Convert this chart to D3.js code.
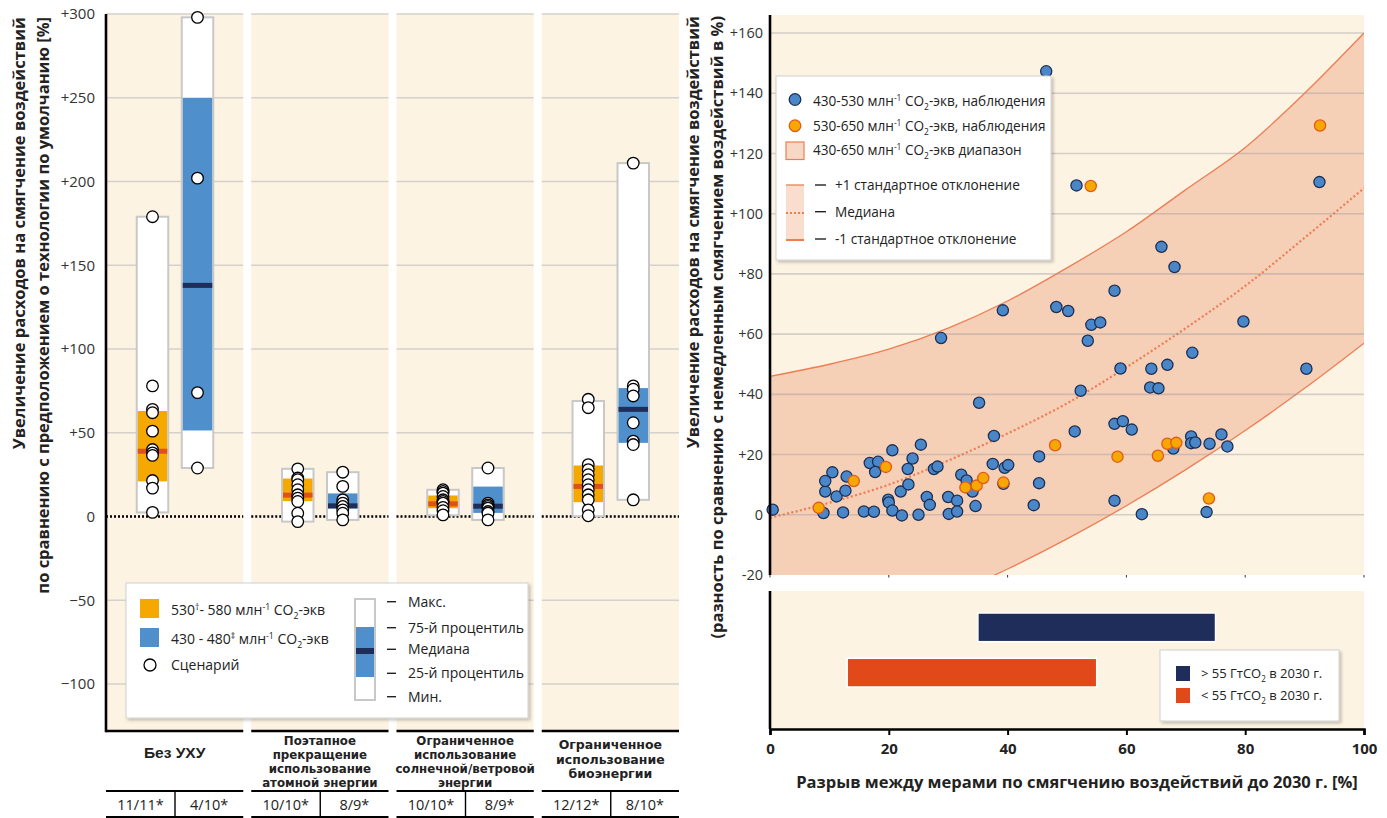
<!DOCTYPE html>
<html>
<head>
<meta charset="utf-8">
<script src="https://cdn.jsdelivr.net/npm/d3@7"></script>
<style>
  body { margin: 0; background: #fff; }
  svg { display: block; font-family: "Open Sans", "Noto Sans", sans-serif; }
</style>
</head>
<body>
<script>
// ---------- Left panel: cost increase under technology constraints ----------
const categoryLines = [
  ["Без УХУ"],
  ["Поэтапное", "прекращение", "использование", "атомной энергии"],
  ["Ограниченное", "использование", "солнечной/ветровой", "энергии"],
  ["Ограниченное", "использование", "биоэнергии"]
];
const counts530 = ["11/11*", "10/10*", "10/10*", "12/12*"];
const counts430 = ["4/10*", "8/9*", "8/9*", "8/10*"];
// [min, 25th pct, median, 75th pct, max]
const stats530 = [
  [2.5, 21, 39, 63, 179],
  [-3, 9.2, 12.8, 22.7, 28.5],
  [0.8, 5, 7.6, 12.6, 16],
  [0.2, 8.6, 18, 30.5, 69]
];
const stats430 = [
  [29, 51.4, 138, 250, 298],
  [-2, 4.8, 6.4, 13.8, 26.5],
  [-2, 2.2, 6.2, 17.9, 29],
  [10, 44, 64, 76.7, 211]
];
const scen530 = [
  [179, 78, 64, 62, 51, 40, 38, 36.5, 21.5, 17, 2.5],
  [28.5, 23, 22, 19, 16, 13, 11, 9, 2, -3],
  [16, 15, 14, 12, 10, 9, 8, 5.5, 3.5, 1],
  [70, 65, 31, 28, 25, 22, 19, 16, 13, 10, 4, 0.5]
];
const scen430 = [
  [298, 202, 74, 29],
  [26.5, 18, 10, 8, 6, 4, 2, -2],
  [29, 8, 7, 6, 5, 3, 2, -2],
  [211, 78, 76, 72, 56, 45, 43, 10]
];
const leftTicks = [-100, -50, 0, 50, 100, 150, 200, 250, 300];

// ---------- Right panel: mitigation gap vs. cost increase ----------
const obs430 = [
  [46.5, 147.3], [51.6, 109.4], [92.5, 110.5], [65.9, 89.0], [68.1, 82.3], [58.0, 74.4],
  [28.8, 58.7], [39.2, 67.9], [48.2, 69.0], [50.2, 67.7], [54.1, 63.1], [55.6, 63.9],
  [53.5, 57.8], [79.7, 64.2], [71.1, 53.8], [59.0, 48.6], [64.2, 48.5], [66.9, 49.8],
  [90.3, 48.5], [52.3, 41.2], [64.0, 42.3], [65.4, 42.0], [35.2, 37.2], [58.0, 30.2],
  [59.4, 31.1], [60.9, 28.3], [51.3, 27.7], [37.7, 26.2], [45.3, 19.4], [67.9, 22.0],
  [70.9, 26.0], [70.9, 23.8], [71.6, 24.0], [74.0, 23.6], [76.0, 26.7], [77.0, 22.7],
  [45.3, 10.5], [44.4, 3.2], [58.0, 4.7], [62.6, 0.2], [73.5, 0.9],
  [0.45, 1.7], [9.0, 0.6], [9.3, 7.7], [9.3, 11.2], [10.5, 14.1], [11.2, 6.1],
  [12.9, 12.7], [12.7, 8.0], [12.3, 0.8], [15.8, 1.1], [17.5, 1.0], [16.8, 17.2],
  [18.2, 17.6], [17.7, 14.2], [20.6, 21.4], [19.9, 5.0], [20.0, 4.1], [20.6, 1.4],
  [22.2, -0.2], [22.0, 7.7], [23.3, 10.1], [23.2, 15.2], [24.0, 18.7], [25.4, 23.3],
  [25.0, 0.0], [26.4, 5.9], [26.9, 3.3], [27.6, 15.2], [28.2, 16.0], [30.0, 5.9],
  [30.1, 0.3], [31.5, 4.7], [31.5, 1.1], [32.2, 13.3], [33.1, 11.4], [34.1, 7.7],
  [34.6, 2.9], [37.5, 16.9], [39.5, 15.6], [40.1, 16.5], [39.3, 10.3]
];
const obs530 = [
  [54.0, 109.2], [92.6, 129.3], [8.2, 2.3], [14.1, 11.2], [19.5, 15.9], [32.9, 9.1],
  [34.8, 9.7], [35.9, 12.2], [39.3, 10.7], [48.0, 23.1], [58.5, 19.3], [65.3, 19.6],
  [66.9, 23.6], [68.4, 23.9], [73.9, 5.4]
];
const bandX      = [0, 10, 20, 30, 40, 50, 60, 70, 80, 90, 100];
const bandUpper  = [46, 50, 55, 62, 71, 82, 94, 108, 122, 140, 160];
const bandMedian = [-1, 4, 10, 18, 27, 37, 49, 62, 76, 92, 108.5];
const bandLower  = [-48, -42, -35, -27, -18, -8, 3, 15, 28, 42, 57];
const rightTicks = [-20, 0, 20, 40, 60, 80, 100, 120, 140, 160];
const gapTicks = [0, 20, 40, 60, 80, 100];
const emissionGroups = ["high", "low"];
const gapStart = [35, 13];
const gapEnd = [75, 55];

// ---------- styles ----------
const C = {
  bg: "#fdf3e2", grid: "#d4d1cc", orange: "#f5a800", orangeMed: "#e0501a",
  blue: "#4f8fcc", navy: "#1f2d5a", band: "#f5cfb6", bandLine: "#ee7d55",
  dotBlue: "#4a87c9", dotBlueStroke: "#1c2f55", dotOrange: "#f6a800", dotOrangeStroke: "#e2591b",
  barHigh: "#1f2d5a", barLow: "#e1491a", text: "#222"
};
const FONT = "'Open Sans', 'Noto Sans', sans-serif";
const LABEL_FONTS = ["'Liberation Sans', Arial, sans-serif", "'DejaVu Sans', sans-serif",
                     "'DejaVu Sans', sans-serif", "'DejaVu Sans', sans-serif"];

const svg = d3.select("body").append("svg").attr("width", 1387).attr("height", 818);
const defs = svg.append("defs");
defs.append("filter").attr("id", "shadow")
  .attr("x", "-10%").attr("y", "-10%").attr("width", "125%").attr("height", "130%")
  .append("feDropShadow").attr("dx", 2).attr("dy", 2).attr("stdDeviation", 1.6)
  .attr("flood-color", "#000").attr("flood-opacity", 0.22);

// text with superscript / subscript pieces: parts = [[text, "sup"|"sub"|null], ...]
function richText(sel, parts, size) {
  let shift = 0;
  parts.forEach(([t, kind]) => {
    const target = kind === "sup" ? -0.38 * size : kind === "sub" ? 0.3 * size : 0;
    sel.append("tspan").attr("dy", target - shift)
      .attr("font-size", kind ? size * 0.62 : size).text(t);
    shift = target;
  });
  return sel;
}

// ================= LEFT PANEL =================
const LP = { x0: 106, x1: 679, top: 14, bottom: 731 };
const panel = d3.scaleBand().domain(d3.range(4)).range([LP.x0, LP.x1]).paddingInner(32 / 581);
const inner = d3.scaleBand().domain([0, 1]).range([30.75, 107.25]).paddingInner(0.3);
const yL = d3.scaleLinear().domain([-128, 300]).range([LP.bottom, LP.top]);
const pw = panel.bandwidth();

const panels = svg.append("g").selectAll("g").data(d3.range(4)).join("g")
  .attr("transform", i => `translate(${panel(i)},0)`);

panels.append("rect").attr("y", LP.top).attr("width", pw).attr("height", LP.bottom - LP.top).attr("fill", C.bg);
panels.selectAll("line.grid").data(leftTicks.filter(d => d !== 0)).join("line")
  .attr("class", "grid").attr("x1", 0).attr("x2", pw)
  .attr("y1", d => yL(d)).attr("y2", d => yL(d))
  .attr("stroke", C.grid).attr("stroke-width", 1.5);
panels.append("line").attr("x1", 0).attr("x2", pw).attr("y1", yL(0)).attr("y2", yL(0))
  .attr("stroke", "#000").attr("stroke-width", 2.4).attr("stroke-dasharray", "2,2");

panels.each(function (i) {
  const g = d3.select(this);
  const series = [
    [stats530[i], scen530[i], C.orange, C.orangeMed],
    [stats430[i], scen430[i], C.blue, C.navy]
  ];
  series.forEach(([st, sc, fill, med], k) => {
    const x = inner(k), w = inner.bandwidth();
    g.append("rect").attr("x", x).attr("width", w)
      .attr("y", yL(st[4])).attr("height", yL(st[0]) - yL(st[4]))
      .attr("fill", "#fff").attr("stroke", "#c8c8c8").attr("stroke-width", 2);
    g.append("rect").attr("x", x + 1).attr("width", w - 2)
      .attr("y", yL(st[3])).attr("height", yL(st[1]) - yL(st[3])).attr("fill", fill);
    g.append("rect").attr("x", x + 1).attr("width", w - 2)
      .attr("y", yL(st[2]) - 2.5).attr("height", 5).attr("fill", med);
    g.selectAll(null).data(sc).join("circle")
      .attr("cx", x + w / 2).attr("cy", d => yL(d)).attr("r", 5.8)
      .attr("fill", "#fff").attr("stroke", "#000").attr("stroke-width", 1.3);
  });

  // base line of the plot
  g.append("line").attr("x1", 0).attr("x2", pw).attr("y1", LP.bottom).attr("y2", LP.bottom)
    .attr("stroke", "#000").attr("stroke-width", 2.6);

  // category label: one text element, one tspan per line
  const lines = categoryLines[i];
  const size = i === 0 ? 15.5 : i === 3 ? 12.5 : 11.8;
  const lh = i === 3 ? 14.6 : 14;
  const base = i === 0 ? 758 : i === 3 ? 749 : 745;
  const label = g.append("text").attr("x", pw / 2).attr("y", base)
    .attr("text-anchor", "middle").attr("font-weight", "bold").attr("font-size", size)
    .attr("font-family", LABEL_FONTS[i]).attr("fill", C.text);
  label.selectAll("tspan").data(lines).join("tspan")
    .attr("x", pw / 2).attr("dy", (d, j) => j === 0 ? 0 : lh).text(d => d);

  // scenario count row
  const mid = inner(1) - (inner.step() - inner.bandwidth()) / 2;
  g.append("line").attr("x1", 0).attr("x2", pw).attr("y1", 791).attr("y2", 791).attr("stroke", "#000").attr("stroke-width", 2);
  g.append("line").attr("x1", 0).attr("x2", pw).attr("y1", 817).attr("y2", 817).attr("stroke", "#000").attr("stroke-width", 2);
  g.append("line").attr("x1", mid).attr("x2", mid).attr("y1", 791).attr("y2", 817).attr("stroke", "#000").attr("stroke-width", 1.4);
  g.append("text").attr("x", mid / 2).attr("y", 810).attr("text-anchor", "middle")
    .attr("font-size", 14.5).attr("fill", C.text).text(counts530[i]);
  g.append("text").attr("x", (mid + pw) / 2).attr("y", 810).attr("text-anchor", "middle")
    .attr("font-size", 14.5).attr("fill", C.text).text(counts430[i]);
});

// left y axis
svg.append("line").attr("x1", LP.x0).attr("x2", LP.x0).attr("y1", LP.top).attr("y2", LP.bottom + 1.3)
  .attr("stroke", "#000").attr("stroke-width", 2.6);
const fmtL = d => d > 0 ? "+" + d : d < 0 ? "\u2212" + Math.abs(d) : "0";
svg.append("g").attr("transform", "translate(95,0)")
  .call(d3.axisLeft(yL).tickValues(leftTicks).tickSize(0).tickPadding(0).tickFormat(fmtL))
  .call(g => g.select(".domain").remove())
  .attr("font-family", FONT).attr("font-size", 15)
  .selectAll("text").attr("fill", "#333");

// left y title (two lines, read bottom-to-top)
[["Увеличение расходов на смягчение воздействий", 25],
 ["по сравнению с предположением о технологии по умолчанию [%]", 49]].forEach(([t, x]) => {
  svg.append("text").attr("transform", `translate(${x},17) rotate(-90)`)
    .attr("text-anchor", "end").attr("font-weight", "bold").attr("font-size", 16.5)
    .attr("fill", C.text).text(t);
});

// left legend
const lg = svg.append("g");
lg.append("rect").attr("x", 126).attr("y", 583).attr("width", 402).attr("height", 135)
  .attr("fill", "#fff").attr("stroke", "#d0d0d0").attr("filter", "url(#shadow)");
lg.append("rect").attr("x", 140).attr("y", 599).attr("width", 19).attr("height", 19).attr("fill", C.orange);
lg.append("rect").attr("x", 140).attr("y", 628).attr("width", 19).attr("height", 19).attr("fill", C.blue);
lg.append("circle").attr("cx", 150).attr("cy", 665).attr("r", 6).attr("fill", "#fff").attr("stroke", "#000").attr("stroke-width", 1.3);
richText(lg.append("text").attr("x", 171).attr("y", 615).attr("fill", C.text),
  [["530", null], ["†", "sup"], ["- 580  млн", null], ["-1", "sup"], [" CO", null], ["2", "sub"], ["-экв", null]], 14);
richText(lg.append("text").attr("x", 171).attr("y", 644).attr("fill", C.text),
  [["430 - 480", null], ["‡", "sup"], [" млн", null], ["-1", "sup"], [" CO", null], ["2", "sub"], ["-экв", null]], 14);
lg.append("text").attr("x", 171).attr("y", 670).attr("font-size", 14).attr("fill", C.text).text("Сценарий");
// box key
lg.append("rect").attr("x", 355).attr("y", 599).attr("width", 20).attr("height", 101)
  .attr("fill", "#fff").attr("stroke", "#c8c8c8").attr("stroke-width", 2);
lg.append("rect").attr("x", 356).attr("y", 627).attr("width", 18).attr("height", 50).attr("fill", C.blue);
lg.append("rect").attr("x", 356).attr("y", 648).attr("width", 18).attr("height", 6).attr("fill", C.navy);
const boxKey = [["Макс.", 601.7], ["75-й процентиль", 627.7], ["Медиана", 649.3], ["25-й процентиль", 673.3], ["Мин.", 696.7]];
boxKey.forEach(([t, y]) => {
  lg.append("line").attr("x1", 387).attr("x2", 396).attr("y1", y).attr("y2", y).attr("stroke", "#222").attr("stroke-width", 1.4);
  lg.append("text").attr("x", 408).attr("y", y + 5).attr("font-size", 14).attr("fill", C.text).text(t);
});

// ================= RIGHT PANEL =================
const RP = { x0: 770, x1: 1364, top: 15, bottom: 575, bTop: 591, bBottom: 729 };
const xR = d3.scaleLinear().domain([0, 100]).range([RP.x0, RP.x1]);
const yR = d3.scaleLinear().domain([-20, 166]).range([RP.bottom, RP.top]);

defs.append("clipPath").attr("id", "plotClip").append("rect")
  .attr("x", RP.x0).attr("y", RP.top).attr("width", RP.x1 - RP.x0).attr("height", RP.bottom - RP.top);

const gR = svg.append("g");
gR.append("rect").attr("x", RP.x0).attr("y", RP.top).attr("width", RP.x1 - RP.x0).attr("height", RP.bottom - RP.top).attr("fill", C.bg);

const bandG = gR.append("g").attr("clip-path", "url(#plotClip)");
const area = d3.area().curve(d3.curveMonotoneX)
  .x((d, i) => xR(bandX[i])).y0((d, i) => yR(bandLower[i])).y1((d, i) => yR(bandUpper[i]));
bandG.append("path").datum(bandX).attr("d", area).attr("fill", C.band);

gR.selectAll("line.grid").data(rightTicks.filter(d => d > -20)).join("line")
  .attr("class", "grid").attr("x1", RP.x0).attr("x2", RP.x1)
  .attr("y1", d => yR(d)).attr("y2", d => yR(d))
  .attr("stroke", "rgb(150,150,160)").attr("stroke-opacity", 0.4).attr("stroke-width", 1.6);

const lineFor = arr => d3.line().curve(d3.curveMonotoneX).x((d, i) => xR(bandX[i])).y((d, i) => yR(arr[i]));
bandG.append("path").datum(bandX).attr("d", lineFor(bandUpper)).attr("fill", "none").attr("stroke", C.bandLine).attr("stroke-width", 1.3);
bandG.append("path").datum(bandX).attr("d", lineFor(bandLower)).attr("fill", "none").attr("stroke", C.bandLine).attr("stroke-width", 1.3);
bandG.append("path").datum(bandX).attr("d", lineFor(bandMedian)).attr("fill", "none").attr("stroke", C.bandLine)
  .attr("stroke-width", 2.2).attr("stroke-dasharray", "2,2.4");

gR.selectAll("circle.b").data(obs430).join("circle").attr("class", "b")
  .attr("cx", d => xR(d[0])).attr("cy", d => yR(d[1])).attr("r", 5.6)
  .attr("fill", C.dotBlue).attr("stroke", C.dotBlueStroke).attr("stroke-width", 1.3);
gR.selectAll("circle.o").data(obs530).join("circle").attr("class", "o")
  .attr("cx", d => xR(d[0])).attr("cy", d => yR(d[1])).attr("r", 5.6)
  .attr("fill", C.dotOrange).attr("stroke", C.dotOrangeStroke).attr("stroke-width", 1.3);

// small ticks under the scatter area
gR.selectAll("line.tk").data(gapTicks).join("line").attr("class", "tk")
  .attr("x1", d => xR(d)).attr("x2", d => xR(d)).attr("y1", RP.bottom).attr("y2", RP.bottom + 2.5)
  .attr("stroke", "#333").attr("stroke-width", 1);

// right y axis
gR.append("line").attr("x1", RP.x0).attr("x2", RP.x0).attr("y1", RP.top).attr("y2", RP.bottom)
  .attr("stroke", "#000").attr("stroke-width", 2.6);
const fmtR = d => d > 0 ? "+" + d : String(d);
gR.append("g").attr("transform", "translate(763,0)")
  .call(d3.axisLeft(yR).tickValues(rightTicks).tickSize(0).tickPadding(0).tickFormat(fmtR))
  .call(g => g.select(".domain").remove())
  .attr("font-family", FONT).attr("font-size", 14.5)
  .selectAll("text").attr("fill", "#333");

[["Увеличение расходов на смягчение воздействий", 699],
 ["(разность по сравнению с немедленным смягчением воздействий в %)", 723]].forEach(([t, x]) => {
  svg.append("text").attr("transform", `translate(${x},16) rotate(-90)`)
    .attr("text-anchor", "end").attr("font-weight", "bold").attr("font-size", 16.5)
    .attr("fill", C.text).text(t);
});

// scatter legend
const rl = svg.append("g");
rl.append("rect").attr("x", 776).attr("y", 76).attr("width", 275).attr("height", 184)
  .attr("fill", "#fff").attr("stroke", "#d0d0d0").attr("filter", "url(#shadow)");
rl.append("circle").attr("cx", 795).attr("cy", 99.5).attr("r", 5.8).attr("fill", C.dotBlue).attr("stroke", C.dotBlueStroke).attr("stroke-width", 1.3);
rl.append("circle").attr("cx", 795).attr("cy", 125.7).attr("r", 5.8).attr("fill", C.dotOrange).attr("stroke", C.dotOrangeStroke).attr("stroke-width", 1.3);
rl.append("rect").attr("x", 786).attr("y", 142).attr("width", 18).attr("height", 17.5)
  .attr("fill", "#f7d8c6").attr("stroke", C.bandLine).attr("stroke-width", 1.2);
richText(rl.append("text").attr("x", 813).attr("y", 106).attr("fill", C.text),
  [["430-530 млн", null], ["-1", "sup"], [" CO", null], ["2", "sub"], ["-экв, наблюдения", null]], 13.6);
richText(rl.append("text").attr("x", 813).attr("y", 131).attr("fill", C.text),
  [["530-650 млн", null], ["-1", "sup"], [" CO", null], ["2", "sub"], ["-экв, наблюдения", null]], 13.6);
richText(rl.append("text").attr("x", 813).attr("y", 155).attr("fill", C.text),
  [["430-650 млн", null], ["-1", "sup"], [" CO", null], ["2", "sub"], ["-экв диапазон", null]], 13.6);
rl.append("rect").attr("x", 786).attr("y", 185).attr("width", 18).attr("height", 55).attr("fill", "#f9ddcd");
rl.append("line").attr("x1", 786).attr("x2", 804).attr("y1", 185).attr("y2", 185).attr("stroke", C.bandLine).attr("stroke-width", 1.3);
rl.append("line").attr("x1", 786).attr("x2", 804).attr("y1", 213).attr("y2", 213).attr("stroke", C.bandLine).attr("stroke-width", 2).attr("stroke-dasharray", "2,2");
rl.append("line").attr("x1", 786).attr("x2", 804).attr("y1", 240).attr("y2", 240).attr("stroke", C.bandLine).attr("stroke-width", 2);
[["+1 стандартное отклонение", 185], ["Медиана", 211.7], ["-1 стандартное отклонение", 239]].forEach(([t, y]) => {
  rl.append("line").attr("x1", 815).attr("x2", 826).attr("y1", y).attr("y2", y).attr("stroke", "#222").attr("stroke-width", 1.4);
  rl.append("text").attr("x", 835).attr("y", y + 5).attr("font-size", 13.6).attr("fill", C.text).text(t);
});

// ---- lower panel: range of mitigation gap by 2030 emission level ----
const gB = svg.append("g");
gB.append("rect").attr("x", RP.x0).attr("y", RP.bTop).attr("width", RP.x1 - RP.x0).attr("height", RP.bBottom - RP.bTop).attr("fill", C.bg);
const yB = d3.scaleBand().domain(emissionGroups).range([613, 687]).paddingInner(0.367);
gB.selectAll("rect.bar").data(emissionGroups).join("rect").attr("class", "bar")
  .attr("x", (d, i) => xR(gapStart[i])).attr("width", (d, i) => xR(gapEnd[i]) - xR(gapStart[i]))
  .attr("y", d => yB(d)).attr("height", yB.bandwidth())
  .attr("fill", (d, i) => i === 0 ? C.barHigh : C.barLow)
  .attr("stroke", "#fff").attr("stroke-width", 1.5);

gB.append("line").attr("x1", RP.x0).attr("x2", RP.x0).attr("y1", RP.bTop).attr("y2", RP.bBottom)
  .attr("stroke", "#000").attr("stroke-width", 2.6);
const xAxis = gB.append("g").attr("transform", `translate(0,${RP.bBottom})`)
  .call(d3.axisBottom(xR).tickValues(gapTicks).tickSize(6).tickPadding(8).tickFormat(d3.format("d")))
  .attr("font-family", FONT).attr("font-size", 15).attr("font-weight", "bold");
xAxis.select(".domain").attr("stroke", "#000").attr("stroke-width", 2.6);
xAxis.selectAll(".tick line").attr("stroke", "#000").attr("stroke-width", 2);
xAxis.selectAll("text").attr("fill", C.text);

svg.append("text").attr("x", 1077).attr("y", 788).attr("text-anchor", "middle")
  .attr("font-weight", "bold").attr("font-size", 16.5).attr("fill", C.text)
  .text("Разрыв между мерами по смягчению воздействий до 2030 г. [%]");

// bar legend
const bl = svg.append("g");
bl.append("rect").attr("x", 1160).attr("y", 650).attr("width", 179).attr("height", 71)
  .attr("fill", "#fff").attr("stroke", "#d0d0d0").attr("filter", "url(#shadow)");
bl.append("rect").attr("x", 1176).attr("y", 666).attr("width", 14).attr("height", 15).attr("fill", C.barHigh);
bl.append("rect").attr("x", 1176).attr("y", 688).attr("width", 14).attr("height", 15).attr("fill", C.barLow);
richText(bl.append("text").attr("x", 1201).attr("y", 678).attr("fill", C.text),
  [["> 55 ГтCO", null], ["2", "sub"], [" в 2030 г.", null]], 13);
richText(bl.append("text").attr("x", 1201).attr("y", 700).attr("fill", C.text),
  [["< 55 ГтCO", null], ["2", "sub"], [" в 2030 г.", null]], 13);
</script>
</body>
</html>
